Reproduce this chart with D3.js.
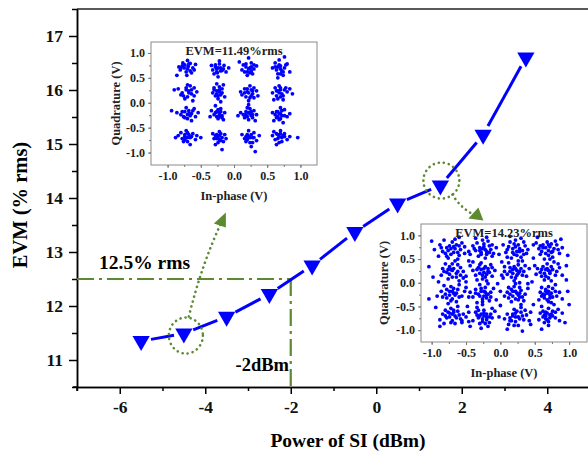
<!DOCTYPE html>
<html><head><meta charset="utf-8">
<script src="https://cdn.jsdelivr.net/npm/d3@7"></script>
<style>body{margin:0;background:#fff}svg{display:block}text{font-family:"Liberation Serif","Times New Roman",serif;font-weight:bold}</style>
</head><body><svg id="c" width="588" height="457"></svg>
<script>
// ---- data ----
const powerSI = [-5.5,-4.5,-3.5,-2.5,-1.5,-0.5,0.5,1.5,2.5,3.5];
const evm = [11.35,11.49,11.80,12.22,12.75,13.37,13.90,14.23,15.17,16.60];
const xTicks = [-6,-4,-2,0,2,4];
const yTicks = [11,12,13,14,15,16,17];
const threshEVM = 12.5, threshPower = -2;
const insetTicks = [-1.0,-0.5,0.0,0.5,1.0];
const constA = [ // EVM=11.49%
[-0.78,0.74],[-0.66,0.79],[-0.72,0.62],[-0.62,0.70],[-0.81,0.66],[-0.70,0.85],[-0.75,0.70],[-0.64,0.60],[-0.86,0.55],[-0.69,0.73],[-0.58,0.77],[-0.77,0.80],[-0.71,0.55],[-0.83,0.72],
[-0.28,0.72],[-0.18,0.65],[-0.25,0.60],[-0.15,0.75],[-0.32,0.66],[-0.22,0.78],[-0.20,0.70],[-0.30,0.58],[-0.12,0.62],[-0.26,0.68],[-0.08,0.70],[-0.24,0.52],[-0.34,0.75],
[0.18,0.72],[0.26,0.80],[0.20,0.62],[0.30,0.68],[0.14,0.76],[0.24,0.70],[0.28,0.58],[0.12,0.66],[0.22,0.90],[0.34,0.74],[0.20,0.55],[0.26,0.64],[0.08,0.82],
[0.66,0.72],[0.72,0.64],[0.62,0.80],[0.76,0.70],[0.70,0.58],[0.64,0.66],[0.80,0.78],[0.68,0.86],[0.74,0.55],[0.58,0.70],[0.70,0.74],[0.84,0.62],[0.66,0.50],[0.76,0.92],
[-0.72,0.26],[-0.64,0.18],[-0.78,0.20],[-0.60,0.30],[-0.70,0.12],[-0.84,0.28],[-0.66,0.34],[-0.74,0.08],[-0.56,0.22],[-0.62,0.04],[-0.80,0.16],[-0.68,0.24],[-0.90,0.26],
[-0.26,0.24],[-0.20,0.16],[-0.30,0.30],[-0.18,0.28],[-0.24,0.08],[-0.28,0.14],[-0.16,0.36],[-0.22,0.22],[-0.32,0.20],[-0.14,0.12],[-0.26,0.38],[-0.20,0.02],
[0.20,0.22],[0.28,0.18],[0.16,0.28],[0.30,0.30],[0.24,0.10],[0.12,0.16],[0.34,0.24],[0.22,0.04],[0.26,0.26],[0.18,0.12],[0.36,0.14],[0.24,0.34],[0.10,0.22],
[0.66,0.24],[0.72,0.18],[0.62,0.30],[0.76,0.26],[0.70,0.12],[0.58,0.20],[0.80,0.22],[0.68,0.34],[0.74,0.06],[0.64,0.14],[0.84,0.28],[0.70,0.26],[0.88,0.18],[0.60,0.06],
[-0.74,-0.18],[-0.66,-0.26],[-0.80,-0.24],[-0.62,-0.16],[-0.70,-0.32],[-0.86,-0.20],[-0.58,-0.28],[-0.72,-0.10],[-0.94,-0.16],[-0.64,-0.36],[-0.76,-0.28],[-0.54,-0.20],[-0.68,-0.22],
[-0.26,-0.18],[-0.18,-0.26],[-0.30,-0.24],[-0.20,-0.12],[-0.24,-0.32],[-0.34,-0.16],[-0.14,-0.20],[-0.22,-0.28],[-0.28,-0.06],[-0.16,-0.34],[-0.36,-0.28],[-0.22,-0.20],
[0.18,-0.18],[0.26,-0.26],[0.14,-0.24],[0.30,-0.16],[0.22,-0.34],[0.10,-0.20],[0.28,-0.30],[0.20,-0.10],[0.34,-0.24],[0.16,-0.30],[0.24,-0.22],[0.32,-0.36],[0.06,-0.26],[0.22,-0.04],
[0.66,-0.18],[0.72,-0.26],[0.62,-0.24],[0.76,-0.14],[0.68,-0.34],[0.58,-0.20],[0.80,-0.28],[0.70,-0.10],[0.64,-0.30],[0.74,-0.40],[0.84,-0.22],[0.68,-0.22],[0.60,-0.36],
[-0.74,-0.64],[-0.66,-0.70],[-0.78,-0.72],[-0.62,-0.62],[-0.70,-0.78],[-0.84,-0.66],[-0.58,-0.74],[-0.72,-0.56],[-0.66,-0.84],[-0.80,-0.60],[-0.56,-0.66],[-0.74,-0.74],[-0.88,-0.70],[-0.50,-0.70],
[-0.26,-0.64],[-0.18,-0.70],[-0.30,-0.72],[-0.22,-0.58],[-0.24,-0.80],[-0.14,-0.64],[-0.32,-0.62],[-0.20,-0.76],[-0.18,-0.94],[-0.28,-0.84],[-0.12,-0.72],[-0.24,-0.68],
[0.20,-0.64],[0.28,-0.70],[0.16,-0.72],[0.30,-0.60],[0.24,-0.80],[0.12,-0.64],[0.34,-0.76],[0.22,-0.56],[0.26,-0.88],[0.32,-0.98],[0.18,-0.78],[0.38,-0.66],[0.24,-0.70],
[0.66,-0.64],[0.72,-0.70],[0.62,-0.74],[0.76,-0.62],[0.68,-0.80],[0.58,-0.66],[0.80,-0.74],[0.70,-0.56],[0.64,-0.84],[0.74,-0.66],[0.96,-0.70],[0.60,-0.58],[0.84,-0.68],
[-0.70,0.68],[-0.74,0.76],[-0.66,0.64],[-0.80,0.70],[-0.68,0.78],[-0.60,0.66],
[-0.24,0.70],[-0.20,0.64],[-0.28,0.76],[-0.16,0.68],[-0.26,0.62],[-0.22,0.84],
[0.22,0.68],[0.18,0.78],[0.26,0.72],[0.16,0.62],[0.30,0.76],[0.24,0.60],
[0.70,0.68],[0.68,0.76],[0.74,0.62],[0.66,0.58],[0.78,0.76],[0.62,0.72],
[-0.68,0.20],[-0.72,0.30],[-0.64,0.26],[-0.76,0.14],[-0.60,0.14],[-0.70,0.36],
[-0.22,0.26],[-0.26,0.18],[-0.18,0.20],[-0.30,0.26],[-0.22,0.32],[-0.24,0.14],
[0.22,0.20],[0.20,0.28],[0.26,0.14],[0.28,0.24],[0.16,0.20],[0.30,0.10],
[0.68,0.20],[0.70,0.30],[0.64,0.24],[0.74,0.14],[0.66,0.08],[0.78,0.30],
[-0.70,-0.24],[-0.68,-0.16],[-0.74,-0.30],[-0.64,-0.22],[-0.78,-0.18],[-0.60,-0.12],
[-0.22,-0.24],[-0.26,-0.28],[-0.20,-0.18],[-0.28,-0.20],[-0.18,-0.30],[-0.24,-0.14],
[0.22,-0.20],[0.20,-0.28],[0.26,-0.18],[0.18,-0.24],[0.28,-0.24],[0.24,-0.12],
[0.70,-0.22],[0.66,-0.28],[0.72,-0.16],[0.64,-0.18],[0.76,-0.26],[0.70,-0.32],
[-0.70,-0.70],[-0.68,-0.64],[-0.74,-0.68],[-0.64,-0.68],[-0.76,-0.78],[-0.70,-0.60],
[-0.22,-0.66],[-0.26,-0.72],[-0.20,-0.62],[-0.28,-0.66],[-0.22,-0.74],[-0.16,-0.78],
[0.22,-0.68],[0.26,-0.64],[0.20,-0.74],[0.28,-0.80],[0.18,-0.68],[0.30,-0.70],
[0.68,-0.68],[0.70,-0.62],[0.66,-0.72],[0.72,-0.78],[0.64,-0.62],[0.76,-0.68]
];
const constB = [ // EVM=14.23%
[-0.78,0.74],[-0.64,0.80],[-0.72,0.60],[-0.58,0.70],[-0.84,0.66],[-0.70,0.86],[-0.76,0.52],[-0.60,0.58],[-0.88,0.80],[-0.66,0.72],[-0.52,0.76],[-0.80,0.62],[-0.74,0.78],[-0.56,0.84],[-0.90,0.56],[-0.68,0.64],[-0.46,0.66],[-0.62,0.50],[-0.82,0.90],[-1.00,0.88],
[-0.30,0.74],[-0.20,0.66],[-0.28,0.60],[-0.16,0.78],[-0.36,0.68],[-0.24,0.82],[-0.14,0.70],[-0.32,0.56],[-0.10,0.62],[-0.26,0.72],[-0.40,0.78],[-0.22,0.52],[-0.18,0.88],[-0.34,0.84],[-0.06,0.74],[-0.28,0.64],[-0.12,0.56],[-0.44,0.60],
[0.18,0.72],[0.26,0.80],[0.20,0.60],[0.32,0.68],[0.12,0.76],[0.24,0.66],[0.30,0.54],[0.08,0.64],[0.22,0.90],[0.36,0.78],[0.16,0.52],[0.28,0.72],[0.04,0.80],[0.34,0.60],[0.14,0.86],[0.40,0.70],[0.26,0.46],[0.30,0.94],
[0.66,0.74],[0.74,0.64],[0.62,0.80],[0.78,0.72],[0.70,0.58],[0.60,0.66],[0.82,0.80],[0.68,0.86],[0.76,0.54],[0.56,0.72],[0.72,0.76],[0.86,0.62],[0.64,0.50],[0.80,0.88],[0.52,0.84],[0.70,0.68],[0.90,0.74],[0.58,0.60],
[-0.72,0.28],[-0.64,0.20],[-0.78,0.22],[-0.58,0.32],[-0.70,0.12],[-0.84,0.30],[-0.62,0.38],[-0.76,0.08],[-0.54,0.24],[-0.66,0.46],[-0.86,0.16],[-0.70,0.26],[-0.50,0.14],[-0.80,0.40],[-1.04,0.34],[-0.60,0.04],[-0.74,0.34],
[-0.28,0.28],[-0.20,0.18],[-0.32,0.32],[-0.18,0.30],[-0.26,0.08],[-0.36,0.16],[-0.14,0.38],[-0.24,0.22],[-0.40,0.26],[-0.12,0.14],[-0.28,0.42],[-0.20,0.04],[-0.34,0.06],[-0.08,0.26],[-0.22,0.34],[-0.44,0.36],[-0.16,0.22],
[0.18,0.28],[0.26,0.20],[0.14,0.32],[0.30,0.30],[0.22,0.10],[0.10,0.18],[0.34,0.24],[0.20,0.04],[0.26,0.38],[0.12,0.42],[0.38,0.14],[0.24,0.26],[0.06,0.24],[0.32,0.46],[0.16,0.12],[0.42,0.30],[0.28,0.00],
[0.66,0.28],[0.72,0.20],[0.62,0.34],[0.76,0.28],[0.70,0.10],[0.58,0.22],[0.82,0.24],[0.68,0.40],[0.74,0.04],[0.60,0.14],[0.86,0.32],[0.70,0.26],[0.90,0.16],[0.54,0.30],[0.78,0.44],[0.64,0.06],[0.96,0.06],
[-0.74,-0.18],[-0.66,-0.26],[-0.80,-0.24],[-0.62,-0.14],[-0.70,-0.34],[-0.86,-0.18],[-0.56,-0.28],[-0.72,-0.08],[-0.92,-0.28],[-0.64,-0.40],[-0.78,-0.32],[-0.52,-0.18],[-0.68,-0.22],[-0.82,-0.06],[-1.04,-0.34],[-0.60,-0.04],[-0.76,-0.44],[-0.46,-0.30],
[-0.28,-0.18],[-0.20,-0.26],[-0.32,-0.24],[-0.22,-0.10],[-0.26,-0.34],[-0.36,-0.14],[-0.14,-0.20],[-0.24,-0.28],[-0.30,-0.04],[-0.16,-0.38],[-0.40,-0.30],[-0.22,-0.20],[-0.10,-0.12],[-0.34,-0.42],[-0.18,-0.02],[-0.44,-0.20],[-0.26,-0.46],
[0.18,-0.18],[0.26,-0.26],[0.14,-0.24],[0.30,-0.16],[0.22,-0.34],[0.10,-0.20],[0.28,-0.30],[0.20,-0.08],[0.36,-0.24],[0.16,-0.40],[0.24,-0.22],[0.34,-0.38],[0.06,-0.28],[0.22,-0.02],[0.40,-0.12],[0.12,-0.10],[0.30,-0.46],
[0.66,-0.18],[0.72,-0.26],[0.62,-0.24],[0.76,-0.12],[0.68,-0.36],[0.58,-0.20],[0.82,-0.28],[0.70,-0.08],[0.64,-0.32],[0.74,-0.42],[0.86,-0.20],[0.68,-0.22],[0.56,-0.36],[0.80,-0.04],[0.90,-0.34],[0.60,-0.10],[0.76,-0.30],
[-0.74,-0.64],[-0.66,-0.70],[-0.78,-0.74],[-0.62,-0.60],[-0.70,-0.80],[-0.84,-0.66],[-0.58,-0.76],[-0.72,-0.54],[-0.66,-0.86],[-0.80,-0.58],[-0.54,-0.66],[-0.74,-0.72],[-0.88,-0.78],[-0.50,-0.72],[-0.62,-0.50],[-0.82,-0.86],[-0.68,-0.62],[-0.46,-0.82],
[-0.28,-0.66],[-0.20,-0.72],[-0.32,-0.74],[-0.24,-0.58],[-0.26,-0.82],[-0.14,-0.66],[-0.36,-0.62],[-0.20,-0.78],[-0.18,-0.92],[-0.30,-0.86],[-0.12,-0.74],[-0.24,-0.70],[-0.40,-0.80],[-0.08,-0.60],[-0.34,-0.52],[-0.16,-0.84],[-0.28,-0.96],
[0.18,-0.66],[0.26,-0.72],[0.14,-0.74],[0.30,-0.62],[0.22,-0.82],[0.10,-0.66],[0.34,-0.78],[0.20,-0.56],[0.26,-0.90],[0.32,-1.02],[0.16,-0.80],[0.38,-0.68],[0.22,-0.72],[0.06,-0.76],[0.30,-0.52],[0.12,-0.88],[0.42,-0.80],
[0.66,-0.62],[0.72,-0.68],[0.62,-0.72],[0.76,-0.60],[0.68,-0.78],[0.58,-0.64],[0.80,-0.74],[0.70,-0.54],[0.64,-0.84],[0.74,-0.66],[0.84,-0.56],[0.60,-0.50],[0.86,-0.80],[0.70,-0.90],[0.56,-0.78],[0.78,-0.46],[0.66,-0.70],[0.90,-0.64],
[-0.68,0.76],[-0.76,0.68],[-0.62,0.64],[-0.72,0.72],[-0.86,0.74],[-0.60,0.78],[-0.78,0.56],[-0.66,0.92],
[-0.24,0.76],[-0.30,0.68],[-0.20,0.60],[-0.22,0.70],[-0.38,0.72],[-0.16,0.64],[-0.26,0.90],[-0.12,0.80],
[0.22,0.76],[0.18,0.64],[0.28,0.66],[0.24,0.58],[0.10,0.70],[0.34,0.86],[0.20,0.82],[0.38,0.62],
[0.70,0.80],[0.66,0.62],[0.76,0.66],[0.62,0.74],[0.74,0.82],[0.84,0.70],[0.58,0.78],[0.72,0.50],
[-0.68,0.30],[-0.74,0.18],[-0.62,0.24],[-0.76,0.28],[-0.58,0.16],[-0.70,0.40],[-0.82,0.24],[-0.64,0.12],
[-0.24,0.30],[-0.30,0.20],[-0.18,0.24],[-0.26,0.16],[-0.34,0.28],[-0.12,0.32],[-0.22,0.12],[-0.30,0.38],
[0.22,0.30],[0.18,0.20],[0.28,0.24],[0.20,0.34],[0.32,0.16],[0.14,0.24],[0.24,0.16],[0.36,0.36],
[0.68,0.30],[0.72,0.24],[0.64,0.20],[0.74,0.34],[0.60,0.28],[0.80,0.16],[0.66,0.14],[0.84,0.40],
[-0.70,-0.18],[-0.74,-0.26],[-0.64,-0.22],[-0.78,-0.14],[-0.60,-0.30],[-0.84,-0.30],[-0.68,-0.12],[-0.72,-0.38],
[-0.24,-0.18],[-0.30,-0.28],[-0.18,-0.24],[-0.28,-0.12],[-0.20,-0.32],[-0.36,-0.22],[-0.14,-0.30],[-0.26,-0.40],
[0.22,-0.18],[0.18,-0.28],[0.28,-0.22],[0.16,-0.14],[0.26,-0.36],[0.32,-0.30],[0.12,-0.32],[0.28,-0.10],
[0.70,-0.18],[0.64,-0.26],[0.74,-0.22],[0.66,-0.14],[0.72,-0.32],[0.60,-0.28],[0.80,-0.18],[0.70,-0.40],
[-0.70,-0.66],[-0.76,-0.62],[-0.64,-0.74],[-0.72,-0.84],[-0.60,-0.68],[-0.80,-0.70],[-0.68,-0.58],[-0.56,-0.80],
[-0.24,-0.64],[-0.30,-0.70],[-0.20,-0.66],[-0.26,-0.76],[-0.16,-0.72],[-0.34,-0.68],[-0.22,-0.86],[-0.32,-0.58],
[0.22,-0.64],[0.18,-0.70],[0.28,-0.76],[0.24,-0.60],[0.14,-0.80],[0.32,-0.70],[0.20,-0.90],[0.36,-0.58],
[0.68,-0.64],[0.72,-0.74],[0.64,-0.68],[0.76,-0.70],[0.62,-0.60],[0.70,-0.82],[0.80,-0.62],[0.66,-0.76],
[-0.46,0.46],[-0.02,0.60],[0.48,0.52],[-0.50,0.02],[0.02,0.44],[0.46,0.02],[-0.04,-0.02],[0.48,-0.46],[-0.48,-0.50],[0.00,-0.48],
[-0.96,0.70],[0.98,0.58],[-0.94,-0.52],[0.94,-0.84],[-0.20,0.96],[0.54,0.96],[-0.60,0.96],[-0.44,-0.92],[0.10,-0.98],[0.60,-0.98],
[-0.90,0.02],[0.96,0.36],[0.98,-0.18],[-0.52,0.62],[0.06,0.34],[-0.06,-0.36],[0.44,-0.62],[0.48,0.80],[-0.40,0.44],[0.40,-0.02],
[-0.50,-0.10],[0.04,0.10],[-0.02,-0.72],[-0.46,-0.62],[0.50,0.36],[-0.88,-0.92],[0.88,0.92],[-0.36,0.94],[0.14,0.98],[-0.98,0.12],
[1.00,-0.46],[0.44,-0.88],[-0.56,-0.84],[0.10,0.54],[-0.12,-0.54],[0.52,0.18],[-0.54,0.10],[0.00,-0.18],[0.02,0.16]
];

// ---- drawing ----
const svg = d3.select("#c");
const BLUE = "#0000ff", GREEN = "#5b8a30";
const x = d3.scaleLinear([-7,5],[77,590]);
const y = d3.scaleLinear([10.5,17.5],[387,9]);

svg.append("line").attr("x1",x(-7)).attr("x2",588).attr("y1",y(17.5)).attr("y2",y(17.5)).attr("stroke","#222").attr("stroke-width",1.5);

function styleAxis(g, fs){
  g.select(".domain").attr("stroke","#000").attr("stroke-width",1.5);
  g.selectAll(".tick line").attr("stroke","#000").attr("stroke-width",1.5);
  g.selectAll("text").attr("font-size",fs).attr("fill","#111")
   .attr("font-family","'Liberation Serif',serif").attr("font-weight","bold");
}
const xMinor = d3.range(-7,5.01,1).filter(v=>!xTicks.includes(v));
const yMinor = d3.range(10.5,17.51,0.5).filter(v=>!yTicks.includes(v));
svg.append("g").attr("transform",`translate(0,${y(10.5)})`)
  .call(d3.axisBottom(x).tickValues(xMinor).tickSize(4).tickFormat("").tickSizeOuter(0))
  .call(g=>styleAxis(g,17.5));
svg.append("g").attr("transform",`translate(0,${y(10.5)})`)
  .call(d3.axisBottom(x).tickValues(xTicks).tickSize(7).tickPadding(7).tickFormat(d=>String(d)).tickSizeOuter(0))
  .call(g=>styleAxis(g,17.5));
svg.append("g").attr("transform",`translate(${x(-7)},0)`)
  .call(d3.axisLeft(y).tickValues(yMinor).tickSize(5).tickFormat("").tickSizeOuter(0))
  .call(g=>styleAxis(g,17.5));
svg.append("g").attr("transform",`translate(${x(-7)},0)`)
  .call(d3.axisLeft(y).tickValues(yTicks).tickSize(8).tickPadding(6).tickFormat(d=>String(d)).tickSizeOuter(0))
  .call(g=>styleAxis(g,17.5));
svg.append("line").attr("x1",x(-7)-4).attr("x2",x(-7)).attr("y1",y(10.5)).attr("y2",y(10.5)).attr("stroke","#000").attr("stroke-width",1.5);
svg.append("line").attr("x1",x(-7)).attr("x2",x(-7)).attr("y1",y(10.5)).attr("y2",y(10.5)+4).attr("stroke","#000").attr("stroke-width",1.5);

svg.append("text").attr("x",348).attr("y",447).attr("text-anchor","middle").attr("font-size",19.5).text("Power of SI (dBm)");
svg.append("text").attr("transform","translate(27,205) rotate(-90)").attr("text-anchor","middle").attr("font-size",20.5).text("EVM (% rms)");

const dashDot = "17,5,3,5";
svg.append("line").attr("x1",x(-7)).attr("x2",x(threshPower)).attr("y1",y(threshEVM)).attr("y2",y(threshEVM))
  .attr("stroke",GREEN).attr("stroke-width",2.2).attr("stroke-dasharray",dashDot);
svg.append("line").attr("x1",x(threshPower)).attr("x2",x(threshPower)).attr("y1",y(threshEVM)).attr("y2",y(10.5))
  .attr("stroke",GREEN).attr("stroke-width",2.2).attr("stroke-dasharray",dashDot);
svg.append("text").attr("x",99).attr("y",269).attr("font-size",19.5).text("12.5% rms");
svg.append("text").attr("x",289).attr("y",371).attr("text-anchor","end").attr("font-size",18.5).text("-2dBm");

const pts = powerSI.map((p,i)=>[x(p),y(evm[i])]);
const gap = 10;
for(let i=0;i<pts.length-1;i++){
  const [x1,y1]=pts[i],[x2,y2]=pts[i+1];
  const L=Math.hypot(x2-x1,y2-y1), ux=(x2-x1)/L, uy=(y2-y1)/L;
  svg.append("line").attr("x1",x1+ux*gap).attr("y1",y1+uy*gap).attr("x2",x2-ux*gap).attr("y2",y2-uy*gap)
    .attr("stroke",BLUE).attr("stroke-width",3);
}
svg.selectAll(".mk").data(powerSI).join("path").attr("class","mk")
  .attr("d",d3.symbol(d3.symbolTriangle,130))
  .attr("transform",(d,i)=>`translate(${x(d)},${y(evm[i])}) rotate(180)`)
  .attr("fill",BLUE);

function dotted(sel){ return sel.attr("fill","none").attr("stroke",GREEN).attr("stroke-width",2.6)
  .attr("stroke-dasharray","0.1,5").attr("stroke-linecap","round"); }
const p1=[x(-4.5),y(11.49)], p2=[x(1.5),y(14.23)];
dotted(svg.append("ellipse").attr("cx",p1[0]+2).attr("cy",p1[1]+2).attr("rx",17).attr("ry",18));
dotted(svg.append("path").attr("d",`M${p1[0]+5},${p1[1]-17} Q${p1[0]+18},${p1[1]-70} ${p1[0]+38},${p1[1]-112}`));
svg.append("path").attr("d",`M${p1[0]+42},${p1[1]-121} L${p1[0]+30},${p1[1]-110} L${p1[0]+42},${p1[1]-106} Z`).attr("fill",GREEN);
dotted(svg.append("ellipse").attr("cx",p2[0]+1).attr("cy",p2[1]-5).attr("rx",18).attr("ry",18));
dotted(svg.append("path").attr("d",`M${p2[0]+12},${p2[1]+9} Q${p2[0]+20},${p2[1]+22} ${p2[0]+33},${p2[1]+29}`));
svg.append("path").attr("d",`M${p2[0]+43},${p2[1]+35} L${p2[0]+28},${p2[1]+33} L${p2[0]+38},${p2[1]+22} Z`).attr("fill",GREEN);

function inset(data, fr, xd, yd, label, qx, ipY){
  const g = svg.append("g");
  const ix = d3.scaleLinear(xd,[fr.l,fr.r]), iy = d3.scaleLinear(yd,[fr.b,fr.t]);
  g.append("rect").attr("x",fr.l).attr("y",fr.t).attr("width",fr.r-fr.l).attr("height",fr.b-fr.t)
    .attr("fill","#fff").attr("stroke","#8a8a8a").attr("stroke-width",1);
  const minor=[-1.0,-0.75,-0.5,-0.25,0,0.25,0.5,0.75,1.0];
  const st = gg=>{gg.select(".domain").remove();gg.selectAll("line").attr("stroke","#777");
    gg.selectAll("text").attr("font-size",12).attr("fill","#222").attr("font-weight","bold").attr("font-family","'Liberation Serif',serif");};
  g.append("g").attr("transform",`translate(0,${fr.b})`).call(d3.axisBottom(ix).tickValues(minor).tickSize(2).tickFormat("")).call(st);
  g.append("g").attr("transform",`translate(0,${fr.b})`).call(d3.axisBottom(ix).tickValues(insetTicks).tickSize(3).tickPadding(3).tickFormat(d=>d.toFixed(1))).call(st);
  g.append("g").attr("transform",`translate(${fr.l},0)`).call(d3.axisLeft(iy).tickValues(minor).tickSize(2).tickFormat("")).call(st);
  g.append("g").attr("transform",`translate(${fr.l},0)`).call(d3.axisLeft(iy).tickValues(insetTicks).tickSize(3).tickPadding(3).tickFormat(d=>d.toFixed(1))).call(st);
  g.selectAll(".pt").data(data).join("circle").attr("cx",d=>ix(d[0])).attr("cy",d=>iy(d[1])).attr("r",1.9).attr("fill",BLUE);
  g.append("text").attr("x",(fr.l+fr.r)/2).attr("y",fr.t+13).attr("text-anchor","middle").attr("font-size",12.5).attr("fill","#222").text(label);
  g.append("text").attr("transform",`translate(${qx},${(fr.t+fr.b)/2}) rotate(-90)`).attr("text-anchor","middle").attr("font-size",12.5).attr("fill","#222").text("Quadrature (V)");
  g.append("text").attr("x",(fr.l+fr.r)/2).attr("y",ipY).attr("text-anchor","middle").attr("font-size",12.5).attr("fill","#222").text("In-phase (V)");
}
inset(constA,{l:151,r:317,t:42,b:165},[-1.25,1.25],[-1.25,1.22],"EVM=11.49%rms",120,200);
inset(constB,{l:421,r:587,t:224,b:342},[-1.155,1.26],[-1.25,1.24],"EVM=14.23%rms",388,377);
</script></body></html>
